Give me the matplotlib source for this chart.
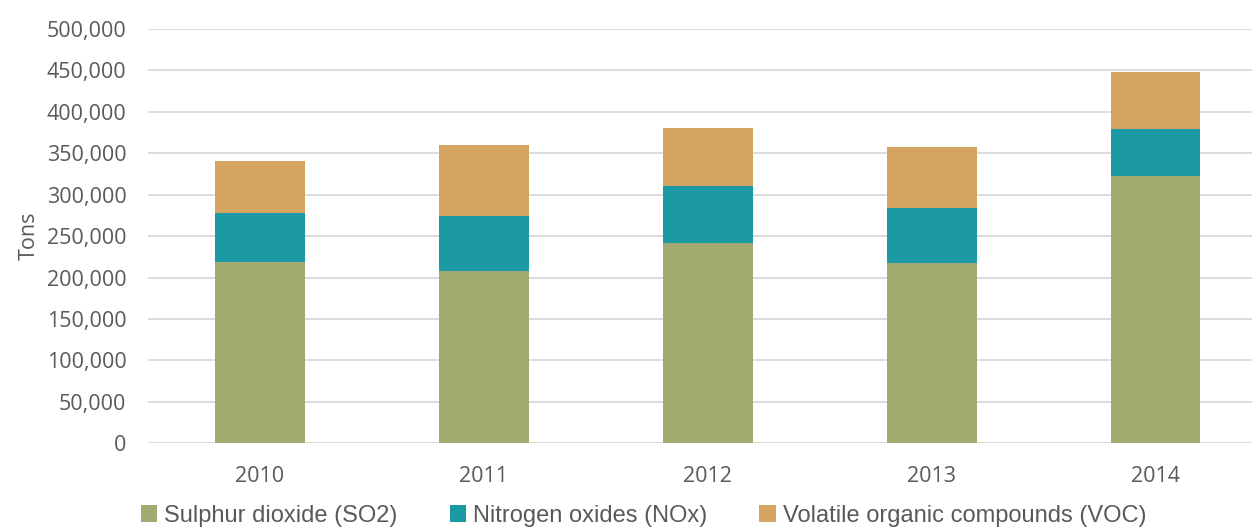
import numpy as np
import matplotlib
matplotlib.use("Agg")
import matplotlib.pyplot as plt
from matplotlib.ticker import FuncFormatter

years = ["2010", "2011", "2012", "2013", "2014"]
so2 = [219000, 208000, 242000, 218000, 323000]
nox = [58500, 66300, 69000, 66300, 56200]
voc = [62800, 85300, 69600, 72900, 68800]

labels = ["Sulphur dioxide (SO2)", "Nitrogen oxides (NOx)", "Volatile organic compounds (VOC)"]
colors = ["#A2AA6F", "#1B9AA6", "#D4A460"]
text_col = "#595959"

fig = plt.figure(figsize=(12.55, 5.27), dpi=100)
ax = fig.add_axes([148 / 1255, 83.7 / 527, 1104 / 1255, 414.3 / 527])

x = np.arange(len(years))
bottom = np.zeros(len(years))
for vals, lab, col in zip([so2, nox, voc], labels, colors):
    ax.bar(x, vals, 0.4, bottom=bottom, color=col, label=lab, zorder=3)
    bottom += np.array(vals)

ax.set_xlim(-0.5, 4.43)
ax.set_ylim(0, 500000)
ax.set_yticks(np.arange(0, 500001, 50000))
ax.yaxis.set_major_formatter(FuncFormatter(lambda v, p: f"{int(v):,}"))
ax.set_xticks(x)
ax.set_xticklabels(years)
ax.grid(axis="y", color="#D9D9D9", linewidth=1.3, zorder=0)
for s in ax.spines.values():
    s.set_visible(False)
ax.tick_params(length=0, colors=text_col, labelsize=15.5)
ax.tick_params(axis="y", pad=15.5)
ax.tick_params(axis="x", pad=16.5)
for t in ax.get_xticklabels() + ax.get_yticklabels():
    t.set_fontfamily("Open Sans")
ax.set_ylabel("Tons", fontsize=15.5, color=text_col, fontfamily="Open Sans", labelpad=5)

fig.legend(loc="center", bbox_to_anchor=(643.5 / 1255, 1 - 516 / 527), ncol=3, frameon=False,
           prop={"family": "Liberation Sans", "size": 17}, labelcolor=text_col,
           handlelength=0.7, handleheight=0.7, handletextpad=0.3, columnspacing=2.2)

fig.savefig("out.png", dpi=100)
